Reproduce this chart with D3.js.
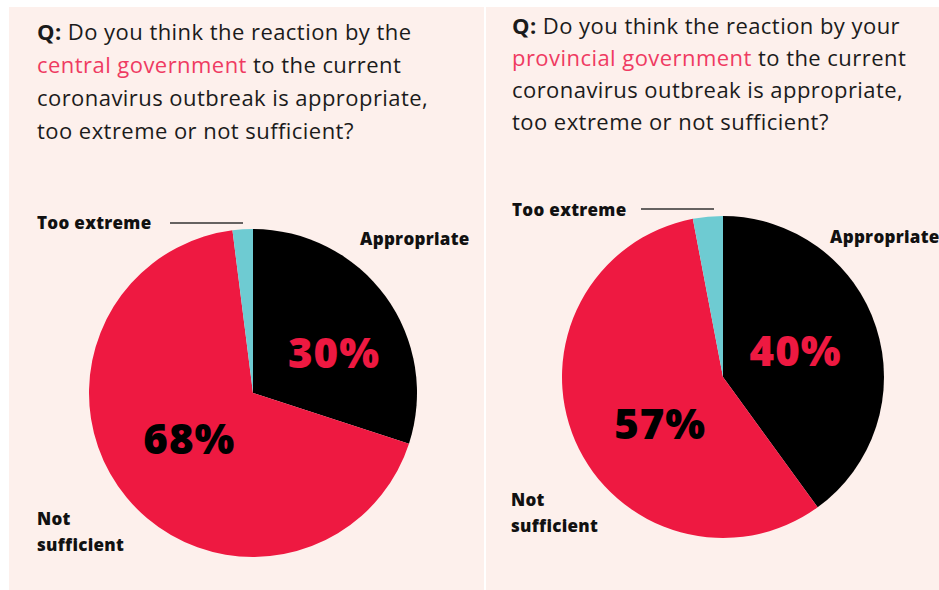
<!DOCTYPE html>
<html lang="en">
<head>
    <meta charset="UTF-8">
    <title>Reaction to coronavirus outbreak</title>
    <script src="https://cdn.jsdelivr.net/npm/d3@7"></script>
    <style>
        body { margin: 0; background: #fff; }
        text { font-family: "Open Sans", sans-serif; }
    </style>
</head>
<body>
<script type="text/javascript">
    var width = 939;
    var height = 590;

    var categories = ["Appropriate", "Not sufficient", "Too extreme"];
    var centralValues = [30, 68, 2];
    var provincialValues = [40, 57, 3];
    var colors = ["#000000", "#ee1941", "#6ecbd2"];
    var pctColors = ["#ee1941", "#000000", null];

    var panels = [
        {
            x: 9, w: 475, values: centralValues,
            cx: 253, cy: 393, r: 164,
            title: [[["Q: ", "q"], ["Do you think the reaction by the", "n"]],
                    [["central government", "h"], [" to the current", "n"]],
                    [["coronavirus outbreak is appropriate,", "n"]],
                    [["too extreme or not sufficient?", "n"]]],
            tx: 37, ty: 40, lh: 33,
            nudge: [[12, 10], [2, -8]],
            extreme: {x: 37, y: 229, x1: 170, x2: 243, ly: 223},
            approp: {x: 360, y: 245},
            notSuf: {x: 37, y: 525}
        },
        {
            x: 486, w: 453, values: provincialValues,
            cx: 723, cy: 377, r: 161,
            title: [[["Q: ", "q"], ["Do you think the reaction by your", "n"]],
                    [["provincial government", "h"], [" to the current", "n"]],
                    [["coronavirus outbreak is appropriate,", "n"]],
                    [["too extreme or not sufficient?", "n"]]],
            tx: 512, ty: 34, lh: 32,
            nudge: [[-7, 0], [14, 14]],
            extreme: {x: 512, y: 216, x1: 641, x2: 714, ly: 209},
            approp: {x: 830, y: 243},
            notSuf: {x: 511, y: 506}
        }
    ];

    var svg = d3.select("body").append("svg")
            .attr("width", width)
            .attr("height", height);

    var pie = d3.pie().sort(null).value(function (d) { return d; });

    panels.forEach(function (p) {
        svg.append("rect")
                .attr("x", p.x).attr("y", 7)
                .attr("width", p.w).attr("height", height - 7)
                .attr("fill", "#fdf0ec");

        // title
        p.title.forEach(function (line, i) {
            var t = svg.append("text")
                    .attr("x", p.tx)
                    .attr("y", p.ty + i * p.lh)
                    .attr("font-size", "22px")
                    .attr("letter-spacing", "0.45px")
                    .attr("fill", "#1b1b1b");
            line.forEach(function (seg) {
                t.append("tspan")
                        .attr("font-weight", seg[1] == "q" ? "bold" : "normal")
                        .attr("fill", seg[1] == "h" ? "#ef3b62" : "#1b1b1b")
                        .text(seg[0]);
            });
        });

        var arcs = pie(p.values);
        var arc = d3.arc().innerRadius(0).outerRadius(p.r);
        var labelArc = d3.arc().innerRadius(p.r * 0.52).outerRadius(p.r * 0.52);

        var g = svg.append("g")
                .attr("transform", "translate(" + p.cx + "," + p.cy + ")");

        g.selectAll("path")
                .data(arcs)
                .enter()
                .append("path")
                .attr("d", arc)
                .attr("fill", function (d, i) { return colors[i]; });

        g.selectAll("text")
                .data(arcs.filter(function (d, i) { return pctColors[i]; }))
                .enter()
                .append("text")
                .attr("transform", function (d, i) {
                    var c = labelArc.centroid(d);
                    return "translate(" + (c[0] + p.nudge[i][0]) + "," + (c[1] + p.nudge[i][1]) + ")";
                })
                .attr("text-anchor", "middle")
                .attr("dy", "0.36em")
                .attr("font-size", "42px")
                .attr("font-weight", "800")
                .attr("letter-spacing", "1px")
                .attr("fill", function (d, i) { return pctColors[i]; })
                .text(function (d) { return d.data + "%"; });

        // category labels
        var lab = {"font-size": "17px", "font-weight": "800", "fill": "#111", "letter-spacing": "0.3px"};
        function label(x, y, s) {
            var t = svg.append("text").attr("x", x).attr("y", y).text(s);
            for (var k in lab) t.attr(k, lab[k]);
        }
        label(p.extreme.x, p.extreme.y, categories[2]);
        svg.append("line")
                .attr("x1", p.extreme.x1).attr("x2", p.extreme.x2)
                .attr("y1", p.extreme.ly).attr("y2", p.extreme.ly)
                .attr("stroke", "#333").attr("stroke-width", 1.5);
        label(p.approp.x, p.approp.y, categories[0]);
        var words = categories[1].split(" ");
        label(p.notSuf.x, p.notSuf.y, words[0]);
        label(p.notSuf.x, p.notSuf.y + 26, words[1].toLowerCase());
    });
</script>
</body>
</html>
